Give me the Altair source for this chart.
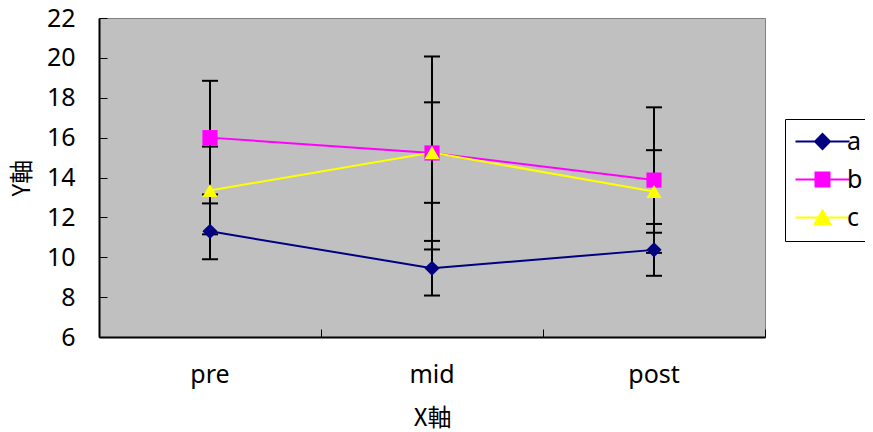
import altair as alt
import pandas as pd

phases = ["pre", "mid", "post"]
series = ["a", "b", "c"]
a_mean = [11.3, 9.45, 10.37]
a_sd = [1.4, 1.37, 1.3]
b_mean = [16.0, 15.23, 13.87]
b_sd = [2.85, 4.84, 3.65]
c_mean = [13.35, 15.25, 13.3]
c_sd = [2.2, 2.52, 2.07]
colors = ["#000080", "#FF00FF", "#FFFF00"]
shapes = ["diamond", "square", "triangle-up"]
legend_shapes = [
    "M-2.7,0H2.7M0,-0.75L0.75,0L0,0.75L-0.75,0Z",
    "M-2.7,0H2.7M-0.7,-0.7H0.7V0.7H-0.7Z",
    "M-2.7,0H2.7M0,-0.7L0.78,0.65L-0.78,0.65Z",
]

rows = []
for s, means, sds in zip(series, [a_mean, b_mean, c_mean], [a_sd, b_sd, c_sd]):
    for i, p in enumerate(phases):
        rows.append({"phase": p, "series": s, "mean": means[i],
                     "lo": means[i] - sds[i], "hi": means[i] + sds[i]})
df = pd.DataFrame(rows)

LBL = "Noto Sans"
TTL = "Noto Sans CJK JP"

xscale = alt.Scale(type="band", domain=phases, paddingInner=0, paddingOuter=0)
yscale = alt.Scale(domain=[6, 22], nice=False, zero=False)

x_axis = alt.Axis(title="X軸", orient="bottom", labelAngle=0, ticks=False,
                  domainColor="black", domainWidth=2, labelFont=LBL,
                  labelFontSize=25, labelColor="black", labelPadding=25,
                  titleFont=TTL, titleFontSize=24, titleFontWeight="normal",
                  titleColor="black", titlePadding=19, grid=False)
y_axis = alt.Axis(title="Y軸", orient="left", values=list(range(6, 23, 2)),
                  ticks=False, domainColor="black", domainWidth=2,
                  labelFont=LBL, labelFontSize=25, labelColor="black",
                  labelOverlap=False, labelPadding=24, titleFont=TTL,
                  titleFontSize=24, titleFontWeight="normal", titleColor="black",
                  titlePadding=12, grid=False)
x_main = alt.X("phase:N", scale=xscale, sort=phases, axis=x_axis)
y_main = alt.Y("mean:Q", scale=yscale, axis=y_axis)

color = alt.Color("series:N", scale=alt.Scale(domain=series, range=colors), legend=None)
shape_cond = {
    "condition": [{"test": "datum.series === '%s'" % s, "value": sh}
                  for s, sh in zip(series[:-1], shapes[:-1])],
    "value": shapes[-1],
}

base = alt.Chart(df)
bars = base.mark_rule(color="black", strokeWidth=2).encode(
    x=x_main, y=alt.Y("lo:Q", scale=yscale, axis=y_axis), y2="hi:Q")
cap_lo = base.mark_tick(color="black", size=16, thickness=2, opacity=1).encode(
    x=x_main, y=alt.Y("lo:Q", scale=yscale, axis=y_axis))
cap_hi = base.mark_tick(color="black", size=16, thickness=2, opacity=1).encode(
    x=x_main, y=alt.Y("hi:Q", scale=yscale, axis=y_axis))
lines = base.mark_line(strokeWidth=2).encode(x=x_main, y=y_main, color=color, detail="series:N")
points = base.mark_point(filled=True, size=230, opacity=1).encode(
    x=x_main, y=y_main, color=color, shape=shape_cond)

main = alt.layer(bars, cap_lo, cap_hi, lines, points)

leg = alt.Legend(title=None)
legend_layer = base.mark_point(filled=True, size=0, opacity=1).encode(
    x=alt.X("phase:N", scale=xscale, sort=phases,
            axis=alt.Axis(title=None, orient="bottom", offset=-8, tickBand="extent",
                          tickSize=8, tickWidth=1, tickColor="black", labels=False,
                          domain=False, grid=False)),
    y=alt.Y("mean:Q", scale=yscale,
            axis=alt.Axis(title=None, orient="left", offset=-8, values=list(range(6, 23, 2)),
                          tickSize=8, tickWidth=1, tickColor="black", labels=False,
                          domain=False, grid=False)),
    fill=alt.Fill("series:N", scale=alt.Scale(domain=series, range=colors), legend=leg),
    stroke=alt.Stroke("series:N", scale=alt.Scale(domain=series, range=colors), legend=leg),
    shape=alt.Shape("series:N", scale=alt.Scale(domain=series, range=legend_shapes), legend=leg),
)

chart = alt.layer(legend_layer, main).resolve_scale(
    x="independent", y="independent"
).resolve_axis(x="independent", y="independent").properties(
    width=666, height=319,
    autosize=alt.AutoSizeParams(type="none"),
    padding={"left": 91, "top": 10, "right": 100, "bottom": 94},
    background="white",
).configure_view(
    fill="#C0C0C0", stroke="#808080", strokeWidth=1
).configure_legend(
    orient="none", legendX=686, legendY=101, strokeColor="black", fillColor="white",
    padding=10, symbolSize=400, symbolStrokeWidth=2, symbolOpacity=1,
    symbolOffset=15, labelOffset=12, labelFont=LBL, labelFontSize=25, labelColor="black",
    rowPadding=12,
)

chart.save("out.html", embed_options={"renderer": "svg", "actions": False})
